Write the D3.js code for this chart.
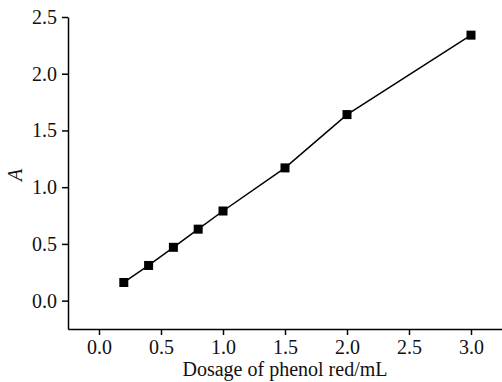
<!DOCTYPE html>
<html>
<head>
<meta charset="utf-8">
<script src="https://cdn.jsdelivr.net/npm/d3@7"></script>
<style>
body { margin: 0; background: #fff; }
svg text { font-family: "Liberation Serif", "Times New Roman", serif; }
</style>
</head>
<body>
<div id="chart"></div>
<script>
var dosage = [0.2, 0.4, 0.6, 0.8, 1.0, 1.5, 2.0, 3.0];
var absorbance = [0.16, 0.31, 0.47, 0.63, 0.79, 1.17, 1.64, 2.34];
var xTicks = [0.0, 0.5, 1.0, 1.5, 2.0, 2.5, 3.0];
var yTicks = [0.0, 0.5, 1.0, 1.5, 2.0, 2.5];

var W = 502, H = 382;
var margin = {top: 17, right: 0, bottom: 53, left: 68};
var width = W - margin.left - margin.right;
var height = H - margin.top - margin.bottom;

var svg = d3.select("#chart").append("svg").attr("width", W).attr("height", H)
var g = svg.append("g").attr("transform", "translate(" + margin.left + "," + margin.top + ")");

var x = d3.scaleLinear().domain([-0.25, 3.25]).range([0, width]);
var y = d3.scaleLinear().domain([-0.25, 2.5]).range([height, 0]);

// axes
var xAxis = g.append("g").attr("transform", "translate(0," + height + ")")
    .call(d3.axisBottom(x).tickValues(xTicks).tickFormat(d3.format(".1f")).tickSize(6).tickSizeOuter(0).tickPadding(5));
var yAxis = g.append("g")
    .call(d3.axisLeft(y).tickValues(yTicks).tickFormat(d3.format(".1f")).tickSize(6).tickSizeOuter(0).tickPadding(5));

[xAxis, yAxis].forEach(function(a) {
    a.select(".domain").attr("stroke", "#000").attr("stroke-width", 1.5);
    a.selectAll(".tick line").attr("stroke", "#000").attr("stroke-width", 1.5);
    a.selectAll(".tick text").attr("fill", "#111").style("font-size", "20px").style("font-family", "Liberation Serif, serif");
});

// line + markers
var pts = dosage.map(function(d, i) { return [d, absorbance[i]]; });
g.append("path").datum(pts)
    .attr("fill", "none").attr("stroke", "#000").attr("stroke-width", 1.5)
    .attr("d", d3.line().x(d => x(d[0])).y(d => y(d[1])));

var s = 9;
g.selectAll(".pt").data(pts).enter().append("rect")
    .attr("x", d => x(d[0]) - s / 2).attr("y", d => y(d[1]) - s / 2)
    .attr("width", s).attr("height", s).attr("fill", "#000");

// labels
svg.append("text").attr("x", margin.left + x(1.5)).attr("y", 376)
    .attr("text-anchor", "middle").style("font-size", "20px").attr("fill", "#111")
    .text("Dosage of phenol red/mL");

svg.append("text").attr("transform", "translate(22,175) rotate(-90)")
    .attr("text-anchor", "middle").style("font-size", "20px").style("font-style", "italic").attr("fill", "#111")
    .text("A");
</script>
</body>
</html>
